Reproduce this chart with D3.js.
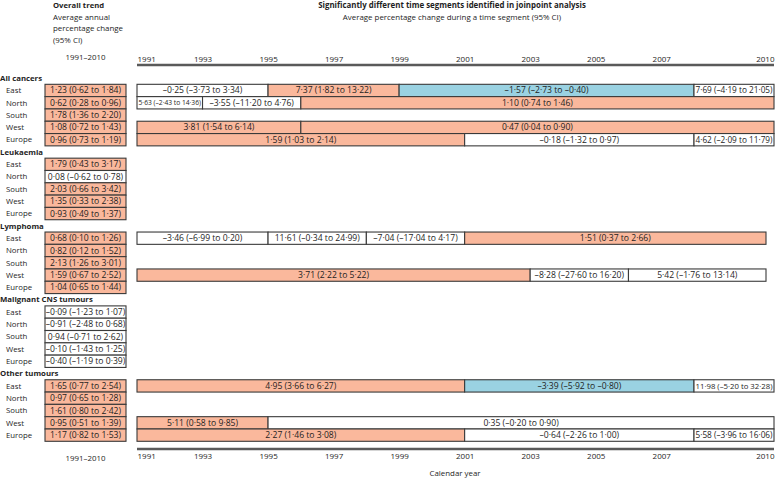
<!DOCTYPE html>
<html lang="en">
<head>
<meta charset="UTF-8">
<title>Joinpoint trends by region</title>
<script src="https://d3js.org/d3.v7.min.js"></script>
<style>
  body { margin: 0; background: #fff; }
  svg { display: block; font-family: "Open Sans", sans-serif; fill: #1e1e1e; }
</style>
</head>
<body>
<svg width="775" height="479"></svg>
<script>
const groups = ["All cancers", "Leukaemia", "Lymphoma", "Malignant CNS tumours", "Other tumours"];
const regions = ["East", "North", "South", "West", "Europe"];
const years = [1991, 1993, 1995, 1997, 1999, 2001, 2003, 2005, 2007, 2010];

// overall trend 1991-2010: [apc, lower, upper] per region
const overallAll   = [[1.23, 0.62, 1.84], [0.62, 0.28, 0.96], [1.78, 1.36, 2.20], [1.08, 0.72, 1.43], [0.96, 0.73, 1.19]];
const overallLeuk  = [[1.79, 0.43, 3.17], [0.08, -0.62, 0.78], [2.03, 0.66, 3.42], [1.35, 0.33, 2.38], [0.93, 0.49, 1.37]];
const overallLymph = [[0.68, 0.10, 1.26], [0.82, 0.12, 1.52], [2.13, 1.26, 3.01], [1.59, 0.67, 2.52], [1.04, 0.65, 1.44]];
const overallCns   = [[-0.09, -1.23, 1.07], [-0.91, -2.48, 0.68], [0.94, -0.71, 2.62], [-0.10, -1.43, 1.25], [-0.40, -1.19, 0.39]];
const overallOther = [[1.65, 0.77, 2.54], [0.97, 0.65, 1.28], [1.61, 0.80, 2.42], [0.95, 0.51, 1.39], [1.17, 0.82, 1.53]];
const overall = [overallAll, overallLeuk, overallLymph, overallCns, overallOther];

// joinpoint segments: [from, to, apc, lower, upper]
const segAll = {
  East:   [[1991, 1995, -0.25, -3.73, 3.34], [1995, 1999, 7.37, 1.82, 13.22], [1999, 2008, -1.57, -2.73, -0.40], [2008, 2010, 7.69, -4.19, 21.05]],
  North:  [[1991, 1993, 5.63, -2.43, 14.36], [1993, 1996, -3.55, -11.20, 4.76], [1996, 2010, 1.10, 0.74, 1.46]],
  West:   [[1991, 1996, 3.81, 1.54, 6.14], [1996, 2010, 0.47, 0.04, 0.90]],
  Europe: [[1991, 2001, 1.59, 1.03, 2.14], [2001, 2008, -0.18, -1.32, 0.97], [2008, 2010, 4.62, -2.09, 11.79]]
};
// lymphoma rows stop a little short of the axis end in the original
const segLymph = {
  East: [[1991, 1995, -3.46, -6.99, 0.20], [1995, 1998, 11.61, -0.34, 24.99], [1998, 2001, -7.04, -17.04, 4.17], [2001, 2009.8, 1.51, 0.37, 2.66]],
  West: [[1991, 2003, 3.71, 2.22, 5.22], [2003, 2006, -8.28, -27.60, 16.20], [2006, 2009.8, 5.42, -1.76, 13.14]]
};
const segOther = {
  East:   [[1991, 2001, 4.95, 3.66, 6.27], [2001, 2008, -3.39, -5.92, -0.80], [2008, 2010, 11.98, -5.20, 32.28]],
  West:   [[1991, 1995, 5.11, 0.58, 9.85], [1995, 2010, 0.35, -0.20, 0.90]],
  Europe: [[1991, 2001, 2.27, 1.46, 3.08], [2001, 2008, -0.64, -2.26, 1.00], [2008, 2010, 5.58, -3.96, 16.06]]
};
const segments = [segAll, {}, segLymph, {}, segOther];

const svg = d3.select("svg");
const fmt = d3.format(".2f");
const num = v => fmt(v).replace(/[\u2212-]/g, "\u2013").replace(".", "\u00b7");
const label = d => `${num(d[0])} (${num(d[1])} to ${num(d[2])})`;
// increase = salmon, decrease = blue, not significant = white
const fillFor = (lo, hi) => lo > 0 ? "#fab89c" : hi < 0 ? "#9ad2e2" : "#fff";

const valueSize = 8.6;
const boxStroke = "#3a3a3a";

// one row for each group heading, then its five regions
const rows = [];
groups.forEach((g, gi) => {
  rows.push({ key: g, group: gi, heading: true });
  regions.forEach((r, ri) => rows.push({ key: g + "|" + r, group: gi, region: r, ri }));
});

const y = d3.scaleBand().domain(rows.map(d => d.key)).range([72, 441.3]);
const x = d3.scaleLinear().domain([1991, 2008, 2010]).range([137, 694, 774]);
const boxX0 = 45, boxX1 = 126;

// headers
const hdr = svg.append("g").attr("font-size", 7.9);
hdr.append("text").attr("x", 53).attr("y", 7.5).attr("font-weight", "bold").attr("font-size", 7.7).text("Overall trend");
["Average annual", "percentage change", "(95% CI)"].forEach((t, i) =>
  hdr.append("text").attr("x", 53).attr("y", 19.5 + i * 11.8).text(t));
hdr.append("text").attr("x", 452).attr("y", 7.5).attr("text-anchor", "middle")
  .attr("font-weight", "bold").text("Significantly different time segments identified in joinpoint analysis");
hdr.append("text").attr("x", 452).attr("y", 19.5).attr("text-anchor", "middle")
  .text("Average percentage change during a time segment (95% CI)");
[60, 461].forEach(yy => hdr.append("text").attr("x", (boxX0 + boxX1) / 2).attr("y", yy)
  .attr("text-anchor", "middle").text("1991\u20132010"));
hdr.append("text").attr("x", 455).attr("y", 476).attr("text-anchor", "middle").text("Calendar year");

// year axes top and bottom
function yearAxis(yLine, axisFn, labelOffset) {
  const g = svg.append("g").attr("transform", `translate(0,${yLine})`)
    .call(axisFn(x).tickValues(years).tickSize(0).tickPadding(labelOffset).tickFormat(d3.format("d")));
  g.select(".domain").remove();
  g.selectAll("text").attr("font-size", 8).attr("font-family", "Open Sans, sans-serif").attr("fill", "#1e1e1e")
    .attr("text-anchor", d => d === 1991 ? "start" : d === 2010 ? "end" : "middle");
  g.append("line").attr("x1", x(1991)).attr("x2", x(2010)).attr("stroke", "#5a5a5a").attr("stroke-width", 2.5);
}
yearAxis(65, d3.axisTop, 3.5);
yearAxis(449, d3.axisBottom, 4.5);

// row labels
svg.append("g").selectAll("text").data(rows).join("text")
  .attr("x", d => d.heading ? 0 : 6)
  .attr("y", d => y(d.key) + y.bandwidth() / 2)
  .attr("dy", "0.35em")
  .attr("font-size", 7.8)
  .attr("font-weight", d => d.heading ? "bold" : "normal")
  .text(d => d.heading ? d.key : d.region);

// overall trend boxes
const regionRows = rows.filter(d => !d.heading);
const ov = svg.append("g").selectAll("g").data(regionRows).join("g");
ov.append("rect")
  .attr("x", boxX0).attr("width", boxX1 - boxX0)
  .attr("y", d => y(d.key)).attr("height", y.bandwidth())
  .attr("fill", d => { const v = overall[d.group][d.ri]; return fillFor(v[1], v[2]); })
  .attr("stroke", boxStroke).attr("stroke-width", 1.1);
ov.append("text")
  .attr("x", (boxX0 + boxX1) / 2).attr("y", d => y(d.key) + y.bandwidth() / 2)
  .attr("dy", "0.35em").attr("text-anchor", "middle").attr("font-size", valueSize)
  .text(d => label(overall[d.group][d.ri]));

// joinpoint segments
const segData = [];
regionRows.forEach(r => {
  (segments[r.group][r.region] || []).forEach(s => segData.push({ row: r.key, s }));
});
const sg = svg.append("g").selectAll("g").data(segData).join("g");
sg.append("rect")
  .attr("x", d => x(d.s[0])).attr("width", d => x(d.s[1]) - x(d.s[0]))
  .attr("y", d => y(d.row)).attr("height", y.bandwidth())
  .attr("fill", d => fillFor(d.s[3], d.s[4]))
  .attr("stroke", boxStroke).attr("stroke-width", 1.1);
sg.append("text")
  .attr("x", d => (x(d.s[0]) + x(d.s[1])) / 2).attr("y", d => y(d.row) + y.bandwidth() / 2)
  .attr("dy", "0.35em").attr("text-anchor", "middle").attr("font-size", valueSize)
  .text(d => label(d.s.slice(2)))
  .each(function (d) {
    // shrink the label when the segment is too narrow
    const room = x(d.s[1]) - x(d.s[0]) - 3;
    const w = this.getComputedTextLength();
    if (w > room) d3.select(this).attr("font-size", valueSize * room / w);
  });
</script>
</body>
</html>
